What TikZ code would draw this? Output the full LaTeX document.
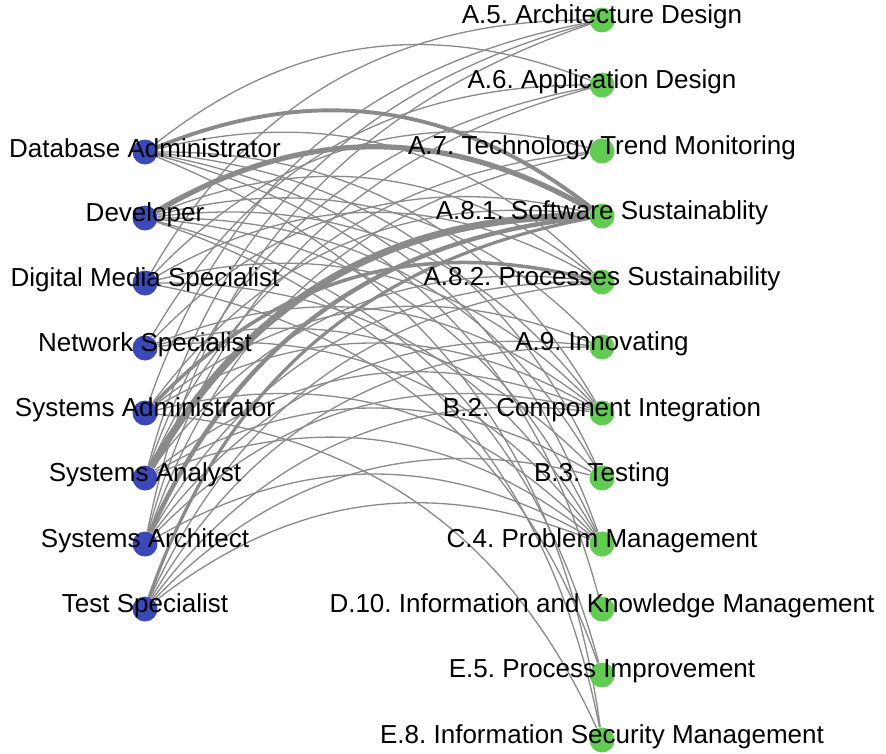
\documentclass[tikz,border=0pt]{standalone}
\usepackage{fontspec}
\setmainfont{Liberation Sans}
\frenchspacing
\usetikzlibrary{backgrounds}

\definecolor{roleblue}{HTML}{3B48B8}
\definecolor{skillgreen}{HTML}{62CC52}
\definecolor{linkgray}{HTML}{8A8A8A}

\tikzset{
	role/.style={circle, fill=roleblue, inner sep=0pt, minimum size=0.5cm},
	skill/.style={circle, fill=skillgreen, inner sep=0pt, minimum size=0.5cm},
	link/.style={draw=linkgray, line width=0.75pt, bend left=30},
	every label/.style={font=\fontsize{14.8}{18}\selectfont, inner sep=0pt, yshift=2pt}
}

\begin{document}
\begin{tikzpicture}[x=0.02cm, y=-0.02cm]
	\useasboundingbox (0,0) rectangle (886,754);

	% job profiles
	\node [role, label=center:Database Administrator] (da) at (145,152) {};
	\node [role, label=center:Developer] (dev) at (145,218) {};
	\node [role, label=center:Digital Media Specialist] (dms) at (145,283) {};
	\node [role, label=center:Network Specialist] (ns) at (145,348) {};
	\node [role, label=center:Systems Administrator] (sadm) at (145,413) {};
	\node [role, label=center:Systems Analyst] (san) at (145,478) {};
	\node [role, label=center:Systems Architect] (sarch) at (145,544) {};
	\node [role, label=center:Test Specialist] (ts) at (145,609) {};

	% competences
	\node [skill, label=center:A.5. Architecture Design] (a5) at (602,20) {};
	\node [skill, label=center:A.6. Application Design] (a6) at (602,85) {};
	\node [skill, label=center:A.7. Technology Trend Monitoring] (a7) at (602,151) {};
	\node [skill, label=center:A.8.1. Software Sustainablity] (a81) at (602,216) {};
	\node [skill, label=center:A.8.2. Processes Sustainability] (a82) at (602,282) {};
	\node [skill, label=center:A.9. Innovating] (a9) at (602,347) {};
	\node [skill, label=center:B.2. Component Integration] (b2) at (602,413) {};
	\node [skill, label=center:B.3. Testing] (b3) at (602,478) {};
	\node [skill, label=center:C.4. Problem Management] (c4) at (602,544) {};
	\node [skill, label=center:D.10. Information and Knowledge Management] (d10) at (602,609) {};
	\node [skill, label=center:E.5. Process Improvement] (e5) at (602,675) {};
	\node [skill, label=center:E.8. Information Security Management] (e8) at (602,740) {};

	\begin{scope}[on background layer]
		\foreach \t in {a6, a82, b2, b3, c4, d10, e8}
			\draw [link] (da) to (\t);
		\foreach \t in {a82, a9, b2, b3, c4, e5, e8}
			\draw [link] (dev) to (\t);
		\foreach \t in {a5, a7, a82, b2, c4, e5}
			\draw [link] (dms) to (\t);
		\foreach \t in {a6, a81, b2, b3, c4}
			\draw [link] (ns) to (\t);
		\foreach \t in {a5, a81, a9, b2, c4, e8}
			\draw [link] (sadm) to (\t);
		\foreach \t in {a5, a6, a7, a82, b2, b3, c4}
			\draw [link] (san) to (\t);
		\foreach \t in {a5, a6, a7, a82, a9, b2, c4}
			\draw [link] (sarch) to (\t);
		\foreach \t in {a82, a9, b2, b3, c4}
			\draw [link] (ts) to (\t);

		% heavier links
		\draw [link, line width=2.2pt] (da) to (a81);
		\draw [link, line width=3pt] (dev) to (a81);
		\draw [link, line width=2pt] (sadm) to (a82);
		\draw [link, line width=4pt] (san) to (a81);
		\draw [link, line width=2.5pt] (sarch) to (a81);
		\draw [link, line width=1.8pt] (ts) to (a81);
	\end{scope}
\end{tikzpicture}
\end{document}
